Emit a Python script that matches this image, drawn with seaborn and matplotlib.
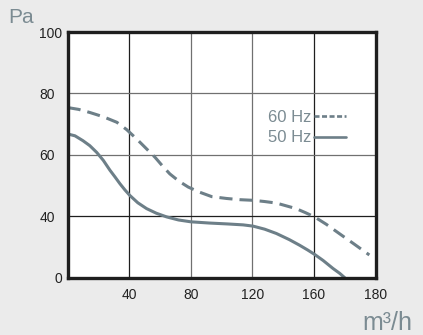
import numpy as np
import pandas as pd
import matplotlib
matplotlib.use("Agg")
import matplotlib.pyplot as plt
from matplotlib.lines import Line2D
import seaborn as sns

# Fan curves: static pressure (Pa) against air flow (m³/h)
flow_60hz = [0, 7.2, 14.4, 23.2, 32, 38.4, 44.8, 50.8, 56.8, 61.6, 66.4, 72.4, 78.4,
             86, 93.6, 103.2, 112, 120.4, 128, 135.6, 142, 148.4, 154.4, 160.2,
             164, 168.2, 173, 178]
pressure_60hz = [75.4, 74.8, 73.8, 72.4, 70.6, 68.2, 65.2, 62.2, 59.2, 56.4, 53.8, 51.4, 49.5,
                 47.8, 46.4, 45.8, 45.4, 45.2, 44.8, 44.3, 43.4, 42.5, 41.2, 39.6,
                 34.8, 28.8, 22, 14.8]

flow_50hz = [0, 4.8, 10, 14.4, 18.9, 23.2, 27.5, 30.8, 34, 37.2, 40.4, 45.6, 51.3, 57.6,
             64.3, 72, 80, 92, 104, 114, 120.4, 128, 135.6, 144, 150.6, 156, 160.2,
             163, 166.2, 168.4, 170]
pressure_50hz = [66.8, 66.2, 64.6, 63, 60.8, 58.2, 55, 52.8, 50.6, 48.6, 46.8, 44.4, 42.5, 41,
                 39.6, 37.6, 36.4, 35.6, 35, 34.4, 33.6, 31.6, 28.8, 24.8, 21.2, 18, 15.2,
                 11.2, 6, 2.8, 0]

series_labels = ["60 Hz", "50 Hz"]

# Axis breakpoints: each grid cell spans one interval between these values
x_ticks = [40, 80, 120, 160, 180]
x_tick_labels = ["40", "80", "120", "160", "180"]
x_knots = [0, 40, 80, 120, 160, 180]
y_ticks = [0, 40, 60, 80, 100]
y_tick_labels = ["0", "40", "60", "80", "100"]
y_knots = [0, 40, 60, 80, 100]

CURVE = "#6d7f88"
LABEL_GREY = "#7b8b92"
INK = "#1e1e1e"
GRID_GREY = "#707070"
BG = "#ebebeb"


def piecewise_scale(knots):
    k = np.asarray(knots, dtype=float)
    p = np.arange(len(k), dtype=float)

    def fwd(v):
        v = np.asarray(v, dtype=float)
        out = np.interp(v, k, p)
        out = np.where(v < k[0], (v - k[0]) / (k[1] - k[0]), out)
        out = np.where(v > k[-1], p[-1] + (v - k[-1]) / (k[-1] - k[-2]), out)
        return out

    def inv(u):
        u = np.asarray(u, dtype=float)
        out = np.interp(u, p, k)
        out = np.where(u < p[0], k[0] + u * (k[1] - k[0]), out)
        out = np.where(u > p[-1], k[-1] + (u - p[-1]) * (k[-1] - k[-2]), out)
        return out

    return fwd, inv


sns.set_style("white")
plt.rcParams["font.family"] = ["Liberation Sans", "DejaVu Sans"]

df = pd.concat([
    pd.DataFrame({"flow": flow_60hz, "pressure": pressure_60hz, "freq": series_labels[0]}),
    pd.DataFrame({"flow": flow_50hz, "pressure": pressure_50hz, "freq": series_labels[1]}),
], ignore_index=True)

fig = plt.figure(figsize=(4.23, 3.35), dpi=100, facecolor=BG)
ax = fig.add_axes([67.6 / 423, 1 - 277.7 / 335, (375.5 - 67.6) / 423, (277.7 - 32) / 335])
ax.set_facecolor("white")

ax.set_xscale("function", functions=piecewise_scale(x_knots))
ax.set_yscale("function", functions=piecewise_scale(y_knots))
ax.set_xlim(x_knots[0], x_knots[-1])
ax.set_ylim(y_knots[0], y_knots[-1])

dash_styles = {series_labels[0]: (4.3, 2.3), series_labels[1]: ""}
sns.lineplot(data=df, x="flow", y="pressure", hue="freq", style="freq",
             palette={s: CURVE for s in series_labels}, dashes=dash_styles,
             linewidth=2.2, sort=False, legend=False, ax=ax, zorder=3)
for line in ax.get_lines():
    line.set_solid_joinstyle("round")
    line.set_dash_joinstyle("round")

ax.set_xlabel("")
ax.set_ylabel("")

for side in ["left", "right", "top", "bottom"]:
    ax.spines[side].set_visible(True)
    ax.spines[side].set_color(INK)
    ax.spines[side].set_linewidth(2.4)
    ax.spines[side].set_zorder(4)

ax.set_xticks(x_ticks)
ax.set_xticklabels(x_tick_labels)
ax.set_yticks(y_ticks)
ax.set_yticklabels(y_tick_labels)
ax.minorticks_off()
ax.tick_params(axis="both", which="major", direction="inout", length=8.5, width=2,
               color=INK, labelsize=10, labelcolor="#222222")
ax.tick_params(axis="x", pad=3.2)
ax.tick_params(axis="y", pad=4.7)
ax.grid(True, which="major", linewidth=0.9, zorder=1)

# per-tick styling: tick marks only at some positions, mixed grid tones
x_marked = {40, 80, 120}
x_dark = {40, 160}
for val, tick in zip(x_ticks, ax.xaxis.get_major_ticks()):
    tick.tick2line.set_visible(False)
    if val not in x_marked:
        tick.tick1line.set_visible(False)
    if val == x_knots[-1]:
        tick.gridline.set_visible(False)
    tick.gridline.set_color(INK if val in x_dark else GRID_GREY)

y_marked = {40, 60, 80}
y_dark = {40}
for val, tick in zip(y_ticks, ax.yaxis.get_major_ticks()):
    tick.tick2line.set_visible(False)
    if val not in y_marked:
        tick.tick1line.set_visible(False)
        tick.set_pad(-0.3)
        tick.gridline.set_visible(False)
    tick.gridline.set_color(INK if val in y_dark else GRID_GREY)

# legend: label first, line sample after it
handles = [
    Line2D([], [], color=CURVE, linewidth=1.9, dashes=(1.9, 0.95)),
    Line2D([], [], color=CURVE, linewidth=1.9),
]
leg = ax.legend(handles, series_labels, markerfirst=False, frameon=False,
                loc="upper right", bbox_to_anchor=(346 / 423, 1 - 110 / 335),
                bbox_transform=fig.transFigure, borderaxespad=0, borderpad=0,
                handlelength=1.92, handletextpad=0.15, labelspacing=0.32,
                prop={"size": 12})
for t in leg.get_texts():
    t.set_color(LABEL_GREY)

fig.text(8 / 423, 1 - 23 / 335, "Pa", fontsize=15, color=LABEL_GREY,
         ha="left", va="baseline")
fig.text(412 / 423, 1 - 330 / 335, "m³/h", fontsize=18, color=LABEL_GREY,
         ha="right", va="baseline")

fig.savefig("out.png", dpi=100, facecolor=BG)
